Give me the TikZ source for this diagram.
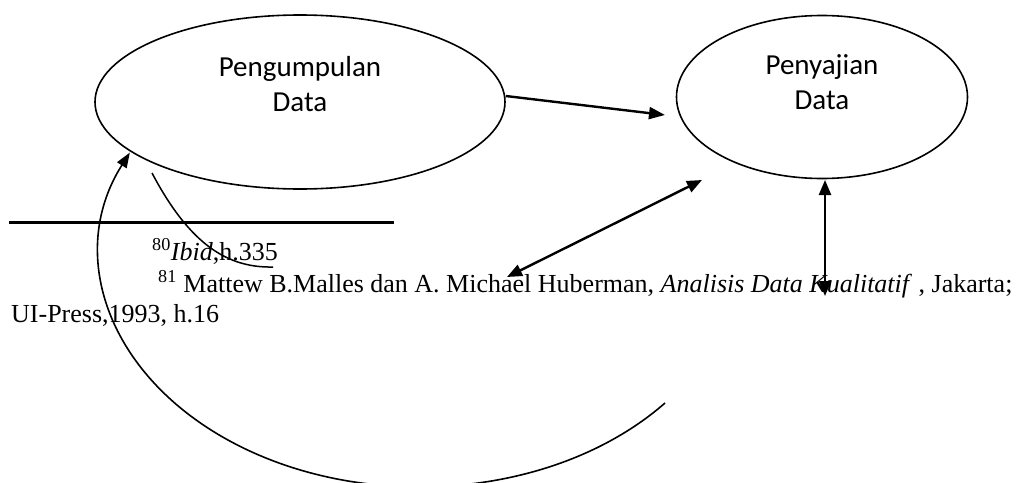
\documentclass[tikz,border=0pt]{standalone}
\usepackage{fontspec}
\setmainfont{Liberation Serif}
\newfontfamily\calibfont{Carlito}
\usepackage{xcolor}
\definecolor{cInk}{HTML}{000000}
\usetikzlibrary{positioning,arrows.meta,shapes.geometric}
\tikzset{
  node-oval/.style={draw=cInk,line width=1.6pt,ellipse,inner sep=0pt},
  node-oval-text/.style={align=center,inner sep=0pt,
    font=\calibfont\fontsize{29}{35}\selectfont},
  node-note/.style={anchor=base west,inner sep=0pt,
    font=\fontsize{26}{30}\selectfont},
  arrow/.style={-{Triangle[length=16pt,width=12pt]},line width=2.4pt,draw=cInk},
  arrow-both/.style={{Triangle[length=15pt,width=12pt]}-{Triangle[length=15pt,width=12pt]},
    line width=2.4pt,draw=cInk},
  arrow-loop/.style={-{Triangle[length=15pt,width=11pt]},line width=1.6pt,draw=cInk},
  stray-line/.style={line width=1.5pt,draw=cInk},
  note-rule/.style={line width=3pt,draw=cInk},
}

\begin{document}
\begin{tikzpicture}[x=1pt,y=-1pt]
  \useasboundingbox (0,0) rectangle (1033,482);
  % ovals
  \node[node-oval,minimum width=410pt,minimum height=174pt] (collect) at (300,102) {};
  \node[node-oval-text] (collect-lbl) at (300,84) {Pengumpulan\\Data};
  \node[node-oval,minimum width=291pt,minimum height=163pt] (present) at (822,97) {};
  \node[node-oval-text] (present-lbl) at (822,82) {Penyajian\\Data};
  % free ends
  \coordinate (present-in) at (665,115);
  \coordinate (diag-hi) at (702,180);
  \coordinate (diag-lo) at (507,277);
  \coordinate (vert-hi) at (825,180);
  \coordinate (vert-lo) at (825,296);
  \coordinate (loop-start) at (665,403);
  \coordinate (stray-start) at (152,173);
  \coordinate (stray-end) at (273,267);
  \coordinate (rule-l) at (9,222);
  \coordinate (rule-r) at (394,222);
  % connectors
  \draw[arrow] ([yshift=6pt]collect.east) -- (present-in);
  \draw[arrow-both] (diag-lo) -- (diag-hi);
  \draw[arrow-both] (vert-lo) -- (vert-hi);
  \draw[arrow-loop] (loop-start) arc[start angle=40,end angle=205,x radius=320,y radius=235];
  \draw[stray-line] (stray-start) .. controls (190,245) and (228,268) .. (stray-end);
  % footnotes
  \draw[note-rule] (rule-l) -- (rule-r);
  \node[node-note] (note-a) at (152,260) {\textsuperscript{80}\textit{Ibid},h.335};
  \node[node-note] (note-b) at (158,292) {\textsuperscript{81} Mattew B.Malles dan A. Michael Huberman, \textit{Analisis Data Kualitatif} , Jakarta;};
  \node[node-note] (note-c) at (11,322) {UI-Press,1993, h.16};
\end{tikzpicture}
\end{document}
